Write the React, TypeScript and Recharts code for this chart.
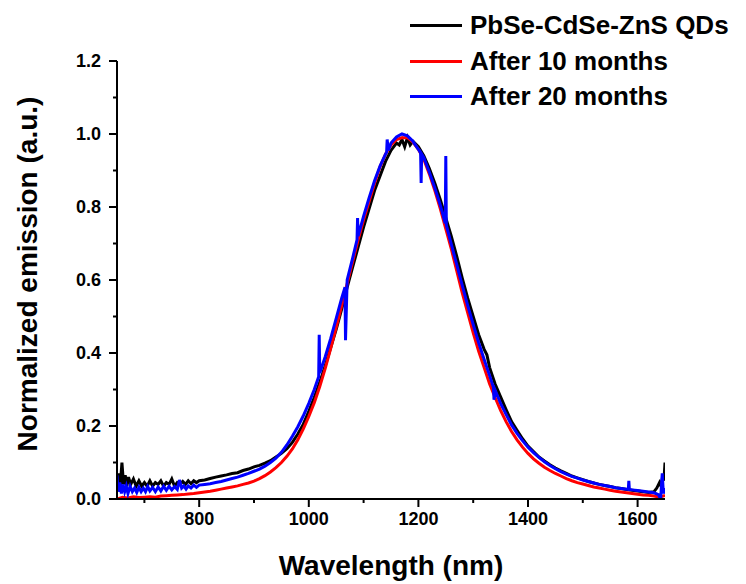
import React from 'react';
import { LineChart, Line, XAxis, YAxis } from 'recharts';

const FONT = "'Liberation Sans', Arial, Helvetica, sans-serif";

// ---- Data ----
const seriesNames = ['PbSe-CdSe-ZnS QDs', 'After 10 months', 'After 20 months'];
const seriesColors = ['#000000', '#ff0000', '#0000ff'];

const xTicks = [700, 800, 900, 1000, 1100, 1200, 1300, 1400, 1500, 1600];
const yTicks = [0, 0.1, 0.2, 0.3, 0.4, 0.5, 0.6, 0.7, 0.8, 0.9, 1.0, 1.1, 1.2];

const blackWl = [
  650, 653, 656, 659, 662, 665, 668, 671, 675, 680,
  685, 690, 695, 700, 705, 710, 715, 720, 725, 730,
  735, 740, 745, 750, 755, 760, 765, 770, 775, 780,
  785, 790, 795, 800, 810, 820, 830, 840, 850, 860,
  870, 880, 890, 900, 910, 920, 930, 940, 950, 960,
  970, 980, 990, 1000, 1010, 1020, 1030, 1040, 1050, 1060,
  1070, 1080, 1090, 1100, 1110, 1120, 1130, 1140, 1150, 1160,
  1165, 1170, 1175, 1180, 1185, 1190, 1200, 1210, 1220, 1230,
  1240, 1250, 1260, 1270, 1280, 1290, 1300, 1310, 1320, 1325,
  1330, 1340, 1350, 1360, 1370, 1380, 1390, 1400, 1410, 1420,
  1430, 1440, 1450, 1460, 1470, 1480, 1490, 1500, 1510, 1520,
  1530, 1540, 1550, 1560, 1570, 1580, 1590, 1600, 1610, 1620,
  1630, 1635, 1640, 1643, 1646, 1648, 1650,
];
const blackEm = [
  0.03, 0.07, 0.035, 0.10, 0.04, 0.065, 0.035, 0.06, 0.04, 0.055,
  0.035, 0.05, 0.035, 0.045, 0.035, 0.05, 0.035, 0.045, 0.04, 0.05,
  0.035, 0.045, 0.04, 0.055, 0.035, 0.045, 0.04, 0.048, 0.04, 0.05,
  0.042, 0.05, 0.045, 0.05, 0.052, 0.056, 0.06, 0.063, 0.066, 0.07,
  0.072, 0.078, 0.082, 0.088, 0.092, 0.098, 0.105, 0.115, 0.125, 0.138,
  0.155, 0.178, 0.205, 0.24, 0.278, 0.32, 0.365, 0.415, 0.465, 0.52,
  0.58, 0.635, 0.69, 0.745, 0.795, 0.845, 0.885, 0.925, 0.955, 0.975,
  0.97, 0.985, 0.965, 0.99, 0.97, 0.98, 0.965, 0.94, 0.905, 0.865,
  0.82, 0.77, 0.72, 0.665, 0.605, 0.55, 0.5, 0.45, 0.41, 0.395,
  0.36, 0.315, 0.28, 0.245, 0.212, 0.188, 0.165, 0.145, 0.13, 0.115,
  0.104, 0.094, 0.085, 0.077, 0.07, 0.063, 0.058, 0.053, 0.048, 0.044,
  0.04, 0.037, 0.034, 0.031, 0.029, 0.026, 0.024, 0.022, 0.02, 0.018,
  0.02, 0.03, 0.045, 0.035, 0.065, 0.05, 0.1,
];

const redWl = [
  650, 660, 670, 680, 690, 700, 710, 720, 730, 740,
  750, 760, 770, 780, 790, 800, 810, 820, 830, 840,
  850, 860, 870, 880, 890, 900, 910, 920, 930, 940,
  950, 960, 970, 980, 990, 1000, 1010, 1020, 1030, 1040,
  1050, 1060, 1070, 1080, 1090, 1100, 1110, 1120, 1130, 1140,
  1150, 1160, 1170, 1180, 1190, 1200, 1210, 1220, 1230, 1240,
  1250, 1260, 1270, 1280, 1290, 1300, 1310, 1320, 1330, 1340,
  1350, 1360, 1370, 1380, 1390, 1400, 1410, 1420, 1430, 1440,
  1450, 1460, 1470, 1480, 1490, 1500, 1510, 1520, 1530, 1540,
  1550, 1560, 1570, 1580, 1590, 1600, 1610, 1620, 1630, 1640,
  1650,
];
const redEm = [
  0.0, 0.005, 0.003, 0.006, 0.004, 0.005, 0.006, 0.005, 0.008, 0.009,
  0.01, 0.011, 0.012, 0.014, 0.015, 0.017, 0.019, 0.021, 0.024, 0.027,
  0.03, 0.033, 0.036, 0.04, 0.044, 0.049, 0.056, 0.064, 0.074, 0.086,
  0.1, 0.117, 0.137, 0.162, 0.192, 0.226, 0.264, 0.308, 0.358, 0.413,
  0.47, 0.53, 0.59, 0.65, 0.71, 0.765, 0.815, 0.865, 0.91, 0.945,
  0.97, 0.985, 0.99, 0.99, 0.978, 0.958, 0.93, 0.89, 0.845, 0.795,
  0.74, 0.685, 0.625, 0.565, 0.51, 0.455, 0.405, 0.36, 0.315, 0.278,
  0.243, 0.212, 0.185, 0.162, 0.142, 0.125, 0.11, 0.098, 0.087, 0.078,
  0.07, 0.063, 0.056, 0.05, 0.045, 0.041, 0.037, 0.033, 0.03, 0.027,
  0.024, 0.021, 0.019, 0.017, 0.015, 0.013, 0.011, 0.01, 0.008, 0.005,
  0.01,
];

const blueWl = [
  650, 652, 655, 658, 661, 664, 667, 670, 674, 678,
  682, 686, 690, 694, 698, 702, 706, 710, 715, 720,
  725, 730, 735, 740, 745, 750, 755, 760, 764, 768,
  772, 776, 780, 785, 790, 795, 800, 810, 820, 830,
  840, 850, 860, 870, 880, 890, 900, 910, 920, 930,
  940, 950, 960, 970, 980, 990, 1000, 1010, 1018, 1019,
  1020, 1030, 1040, 1050, 1060, 1065, 1066, 1067, 1070, 1080,
  1088, 1089, 1090, 1100, 1110, 1120, 1130, 1140, 1142, 1143,
  1145, 1150, 1160, 1170, 1180, 1190, 1200, 1204, 1205, 1206,
  1210, 1220, 1230, 1240, 1249, 1250, 1251, 1260, 1270, 1280,
  1290, 1300, 1310, 1320, 1330, 1336, 1337, 1338, 1340, 1350,
  1360, 1370, 1380, 1390, 1400, 1410, 1420, 1430, 1440, 1450,
  1460, 1470, 1480, 1490, 1500, 1510, 1520, 1530, 1540, 1550,
  1560, 1570, 1580, 1583, 1584, 1585, 1590, 1600, 1610, 1620,
  1630, 1638, 1642, 1645, 1647, 1650,
];
const blueEm = [
  0.065, 0.02, 0.045, 0.015, 0.04, 0.02, 0.035, 0.015, 0.035, 0.02,
  0.03, 0.018, 0.032, 0.02, 0.03, 0.02, 0.034, 0.022, 0.032, 0.02,
  0.033, 0.022, 0.035, 0.024, 0.035, 0.025, 0.034, 0.026, 0.052, 0.03,
  0.036, 0.027, 0.036, 0.03, 0.038, 0.032, 0.038, 0.04, 0.042, 0.045,
  0.048, 0.052, 0.056, 0.06, 0.065, 0.07, 0.076, 0.082, 0.09, 0.1,
  0.112, 0.128, 0.148, 0.172, 0.198, 0.228, 0.262, 0.3, 0.335, 0.45,
  0.345, 0.39, 0.44, 0.495, 0.55, 0.575, 0.58, 0.435, 0.6, 0.66,
  0.71, 0.77, 0.72, 0.775, 0.825, 0.872, 0.912, 0.945, 0.95, 0.985,
  0.955, 0.975, 0.992, 1.0, 0.995, 0.98, 0.958, 0.948, 0.866, 0.945,
  0.935, 0.895, 0.852, 0.805, 0.755, 0.94, 0.75, 0.698, 0.642, 0.585,
  0.53, 0.478, 0.428, 0.382, 0.338, 0.31, 0.305, 0.272, 0.298, 0.262,
  0.232, 0.203, 0.18, 0.16, 0.142, 0.127, 0.114, 0.102, 0.092, 0.083,
  0.075, 0.068, 0.062, 0.057, 0.052, 0.048, 0.044, 0.04, 0.037, 0.034,
  0.031, 0.029, 0.027, 0.026, 0.05, 0.026, 0.025, 0.023, 0.021, 0.019,
  0.017, 0.012, 0.0, 0.07, 0.015, 0.03,
];

const toPoints = (wl: number[], em: number[]) => wl.map((x, i) => ({ x, y: em[i] }));
const blackData = toPoints(blackWl, blackEm);
const redData = toPoints(redWl, redEm);
const blueData = toPoints(blueWl, blueEm);

// ---- Tick renderers ----
const XTick = (props: any) => {
  const { x, y, payload } = props;
  const v = payload.value as number;
  const major = v % 200 === 0;
  return (
    <g>
      <line x1={x} x2={x} y1={y} y2={y + (major ? 8 : 4)} stroke="#000" strokeWidth={2} />
      {major && (
        <text x={x} y={y + 26} textAnchor="middle" fontFamily={FONT} fontWeight="bold" fontSize={18} fill="#000">
          {v}
        </text>
      )}
    </g>
  );
};

const YTick = (props: any) => {
  const { x, y, payload } = props;
  const v = payload.value as number;
  const major = Math.round(v * 10) % 2 === 0;
  return (
    <g>
      <line x1={x - (major ? 8 : 4)} x2={x} y1={y} y2={y} stroke="#000" strokeWidth={2} />
      {major && (
        <text x={x - 16} y={y} dy="0.35em" textAnchor="end" fontFamily={FONT} fontWeight="bold" fontSize={18} fill="#000">
          {v.toFixed(1)}
        </text>
      )}
    </g>
  );
};

const XLabel = (props: any) => {
  const vb = props.viewBox || { x: 117, y: 499, width: 548 };
  return (
    <text x={vb.x + vb.width / 2} y={575} textAnchor="middle" fontFamily={FONT} fontWeight="bold" fontSize={28} fill="#000">
      Wavelength (nm)
    </text>
  );
};

const YLabel = () => (
  <text
    x={37}
    y={274}
    transform="rotate(-90, 37, 274)"
    textAnchor="middle"
    fontFamily={FONT}
    fontWeight="bold"
    fontSize={28}
    fill="#000"
  >
    Normalized emission (a.u.)
  </text>
);

export default function App() {
  const datasets = [blackData, redData, blueData];
  return (
    <div style={{ position: 'absolute', left: 0, top: 0, width: 746, height: 584, background: '#fff' }}>
      <LineChart width={746} height={584} margin={{ top: 61, right: 81, bottom: 0, left: 0 }}>
        <XAxis
          type="number"
          dataKey="x"
          domain={[650, 1650]}
          allowDataOverflow
          ticks={xTicks}
          interval={0}
          tickSize={0}
          tickMargin={0}
          tickLine={false}
          tick={<XTick />}
          height={85}
          axisLine={{ stroke: '#000', strokeWidth: 2 }}
          label={{ content: <XLabel /> }}
        />
        <YAxis
          type="number"
          dataKey="y"
          domain={[0, 1.2]}
          allowDataOverflow
          ticks={yTicks}
          interval={0}
          tickSize={0}
          tickMargin={0}
          tickLine={false}
          tick={<YTick />}
          width={117}
          axisLine={{ stroke: '#000', strokeWidth: 2 }}
          label={{ content: <YLabel /> }}
        />
        {datasets.map((d, i) => (
          <Line
            key={seriesNames[i]}
            data={d}
            dataKey="y"
            name={seriesNames[i]}
            type="linear"
            stroke={seriesColors[i]}
            strokeWidth={3}
            dot={false}
            activeDot={false}
            isAnimationActive={false}
          />
        ))}
      </LineChart>
      <div style={{ position: 'absolute', left: 410, top: 8, fontFamily: FONT, fontWeight: 'bold', fontSize: 26, color: '#000' }}>
        {seriesNames.map((n, i) => (
          <div key={n} style={{ display: 'flex', alignItems: 'center', height: 35.5, whiteSpace: 'nowrap' }}>
            <span style={{ display: 'inline-block', width: 52, height: 3, background: seriesColors[i], marginRight: 8 }} />
            <span>{n}</span>
          </div>
        ))}
      </div>
    </div>
  );
}
